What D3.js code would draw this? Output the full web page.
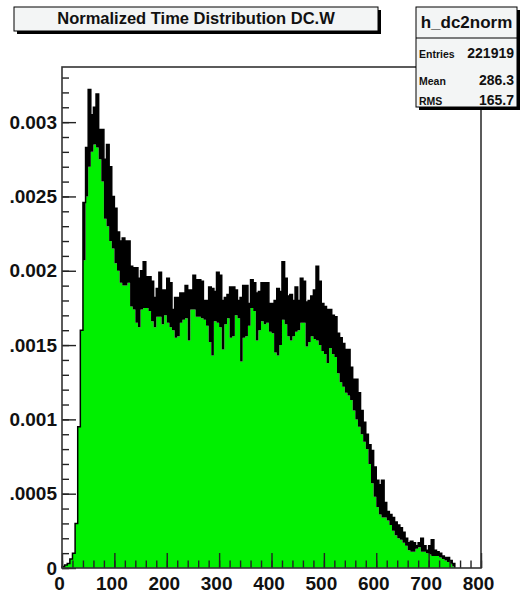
<!DOCTYPE html>
<html><head><meta charset="utf-8">
<script src="https://cdn.jsdelivr.net/npm/d3@7"></script>
<style>
body{margin:0;background:#fff;}
svg{display:block;}
text{font-family:"Liberation Sans",Arial,Helvetica,sans-serif;}
</style>
</head><body>
<svg id="c" width="531" height="598"></svg>
<script>
// ---------------- data ----------------
const title = "Normalized Time Distribution DC.W";
const histName = "h_dc2norm";
const statLabels = ["Entries", "Mean", "RMS"];
const statValues = ["221919", "286.3", "165.7"];

// histogram: bins of 5 time units starting at 0.
// hiE4 = top of the black (fluctuating) band, loE4 = top of the green fill, in units of 1e-4
const binStart = 0;
const binWidth = 5;
const hiE4 = [
  0.1, 0.2, 0.3, 0.6, 1.0, 3.0, 9.5, 16.0,
  24.6, 28.3, 32.2, 30.5, 31.0, 31.9, 29.5, 29.5, 27.5, 28.5, 27.0, 25.0, 24.2, 22.6, 22.0, 22.2, 22.0, 22.0,
  20.3, 20.2, 20.2, 19.5, 20.0, 20.6, 19.6, 19.6, 19.3, 18.2, 18.8, 19.9, 18.7, 18.7, 19.5, 19.2, 17.4, 18.2, 18.2, 18.5, 18.5, 19.0, 18.7, 18.7, 19.7,
  19.4, 19.4, 19.3, 18.0, 18.0, 18.9, 18.8, 18.6, 19.9, 19.7, 18.0, 18.2, 18.4, 18.9, 18.9, 18.7, 18.0, 18.2, 19.0, 19.0, 17.8, 19.4, 19.2, 18.5, 18.6, 19.2, 19.2,
  19.2, 17.8, 17.8, 18.0, 18.8, 18.6, 20.6, 19.5, 18.3, 18.4, 18.0, 18.9, 18.0, 19.5, 19.3, 17.9, 18.0, 18.3, 18.7, 20.3, 19.3, 17.8, 17.6, 17.4, 17.4, 17.0, 16.9,
  15.8, 15.5, 15.1, 14.7, 14.7, 13.5, 12.7, 12.7, 11.8, 10.6, 9.8, 9.0, 8.3, 7.9, 6.8, 5.9, 5.6, 5.9, 4.4, 3.8,
  3.6, 3.4, 3.1, 2.9, 2.7, 2.4, 2.0, 1.7, 1.8, 1.7, 1.5, 1.7, 2.0, 1.5, 1.2, 1.5, 1.9, 1.2, 1.1, 1.0,
  0.8, 0.7, 0.7, 0.5, 0.3
];
const loE4 = [
  0.1, 0.2, 0.3, 0.6, 1.0, 3.0, 9.5, 16.0,
  20.7, 25.0, 27.0, 28.0, 28.5, 28.3, 27.5, 26.0, 23.5, 23.0, 22.0, 21.5, 20.5, 20.0, 19.2, 19.0, 19.0, 19.2,
  17.6, 17.4, 16.5, 16.2, 17.4, 17.5, 17.5, 17.3, 16.6, 16.2, 16.9, 16.9, 16.4, 17.0, 16.5, 16.2, 16.0, 15.5, 15.6, 16.5, 16.7, 16.8, 15.3, 17.4, 17.4,
  16.9, 16.9, 16.8, 16.7, 16.3, 15.2, 14.3, 16.6, 16.5, 16.2, 14.7, 16.4, 16.8, 15.5, 15.6, 17.0, 16.8, 13.9, 15.5, 15.6, 16.3, 17.5, 17.3, 15.3, 16.0, 16.6, 16.4,
  16.5, 15.9, 15.8, 14.5, 14.3, 15.0, 16.7, 16.4, 15.6, 15.3, 15.6, 15.9, 16.0, 16.5, 16.5, 14.9, 15.2, 15.6, 15.4, 15.3, 15.0, 14.6, 14.4, 13.8, 14.8, 14.4, 14.2,
  13.1, 12.5, 12.2, 11.8, 11.6, 11.3, 10.6, 10.0, 9.5, 9.0, 8.5, 8.0, 7.0, 5.7, 4.8, 4.1, 3.6, 3.4, 3.4, 3.2,
  2.9, 2.5, 2.2, 2.0, 1.9, 1.7, 1.5, 1.2, 1.1, 1.1, 1.3, 1.4, 1.1, 1.1, 1.0, 0.9, 0.8, 0.8, 0.8, 0.7,
  0.6, 0.5, 0.4, 0.3, 0.1
];

const xDomain = [0, 800];
const yDomainE4 = [0, 33.71];
const xTickValues = [0, 100, 200, 300, 400, 500, 600, 700, 800];
const xTickLabels = ["0", "100", "200", "300", "400", "500", "600", "700", "800"];
const yTickValuesE4 = [0, 5, 10, 15, 20, 25, 30];
const yTickLabels = ["0", ".0005", "0.001", ".0015", "0.002", ".0025", "0.003"];

// ---------------- drawing ----------------
const svg = d3.select("#c");
const frame = {left: 62, right: 481, top: 67, bottom: 568};
const x = d3.scaleLinear().domain(xDomain).range([frame.left, frame.right]);
const y = d3.scaleLinear().domain(yDomainE4).range([frame.bottom, frame.top]);

const bins = hiE4.map((h, i) => ({
  x0: binStart + i * binWidth,
  x1: binStart + (i + 1) * binWidth,
  hi: h,
  lo: loE4[i]
}));
const lastBin = bins[bins.length - 1];
// step points (one per bin edge, the last repeated to close the final bin)
const stepPts = bins.concat([{x0: lastBin.x1, hi: lastBin.hi, lo: lastBin.lo}]);

const gH = svg.append("g");
// green fill up to the low envelope
gH.append("path")
  .attr("d", d3.area().curve(d3.curveStepAfter)
    .x(d => x(d.x0)).y0(y(0)).y1(d => y(d.lo))(stepPts))
  .attr("fill", "#00f000");
// black fluctuation band between low and high envelopes
gH.append("path")
  .attr("d", d3.area().curve(d3.curveStepAfter)
    .x(d => x(d.x0)).y0(d => y(d.lo)).y1(d => y(d.hi))(stepPts))
  .attr("fill", "#000");
// histogram outline
const outline = [{x0: bins[0].x0, hi: 0}].concat(stepPts, [{x0: lastBin.x1, hi: 0}]);
gH.append("path")
  .attr("d", d3.line().curve(d3.curveStepAfter).x(d => x(d.x0)).y(d => y(d.hi))(outline))
  .attr("fill", "none")
  .attr("stroke", "#000")
  .attr("stroke-width", 1.5);

// axes
const axisColor = "#222";
const xMajor = d3.axisBottom(x).tickValues(xTickValues)
  .tickFormat((d, i) => xTickLabels[i]).tickSize(-15).tickPadding(9);
const xMinor = d3.axisBottom(x).tickValues(d3.range(0, 801, 20))
  .tickFormat("").tickSize(-7.5);
const yMajor = d3.axisLeft(y).tickValues(yTickValuesE4)
  .tickFormat((d, i) => yTickLabels[i]).tickSize(-14).tickPadding(5);
const yMinor = d3.axisLeft(y).tickValues(d3.range(0, 33.5, 1))
  .tickFormat("").tickSize(-7);

function styleAxis(g) {
  g.select(".domain").remove();
  g.selectAll("line").attr("stroke", axisColor).attr("stroke-width", 1.4);
  g.selectAll("text").attr("fill", "#111").attr("font-size", "19px").attr("font-weight", "bold")
    .attr("font-family", "'Liberation Sans', Arial, sans-serif");
}
svg.append("g").attr("transform", `translate(0,${frame.bottom})`).call(xMinor).call(styleAxis);
svg.append("g").attr("transform", `translate(0,${frame.bottom})`).call(xMajor).call(styleAxis)
  .selectAll("text").attr("dx", "-3");
svg.append("g").attr("transform", `translate(0,${frame.bottom})`).call(g => g.remove());
svg.append("g").attr("transform", `translate(${frame.left},0)`).call(yMinor).call(styleAxis);
svg.append("g").attr("transform", `translate(${frame.left},0)`).call(yMajor).call(styleAxis);

// frame
svg.append("rect")
  .attr("x", frame.left).attr("y", frame.top)
  .attr("width", frame.right - frame.left).attr("height", frame.bottom - frame.top)
  .attr("fill", "none").attr("stroke", "#333").attr("stroke-width", 1.6);

// title box
const boxFill = "#f3f5f5";
const tb = {x: 14, y: 7, w: 364, h: 24};
svg.append("rect").attr("x", tb.x + 3).attr("y", tb.y + 3).attr("width", tb.w).attr("height", tb.h).attr("fill", "#000");
svg.append("rect").attr("x", tb.x).attr("y", tb.y).attr("width", tb.w).attr("height", tb.h)
  .attr("fill", boxFill).attr("stroke", "#000").attr("stroke-width", 1);
svg.append("text").attr("x", tb.x + tb.w / 2).attr("y", tb.y + tb.h / 2 + 1)
  .attr("text-anchor", "middle").attr("dominant-baseline", "middle")
  .attr("font-size", "16.5px").attr("font-weight", "bold").attr("fill", "#111")
  .text(title);

// stats box
const sb = {x: 416, y: 7, w: 101, h: 100};
svg.append("rect").attr("x", sb.x + 3).attr("y", sb.y + 3).attr("width", sb.w).attr("height", sb.h).attr("fill", "#000");
svg.append("rect").attr("x", sb.x).attr("y", sb.y).attr("width", sb.w).attr("height", sb.h)
  .attr("fill", boxFill).attr("stroke", "#000").attr("stroke-width", 1);
svg.append("line").attr("x1", sb.x).attr("x2", sb.x + sb.w).attr("y1", 38).attr("y2", 38)
  .attr("stroke", "#000").attr("stroke-width", 1);
svg.append("text").attr("x", sb.x + sb.w / 2).attr("y", 28)
  .attr("text-anchor", "middle").attr("font-size", "17px").attr("font-weight", "bold").attr("fill", "#111")
  .text(histName);
const rowY = [58, 85, 105];
statLabels.forEach((lab, i) => {
  svg.append("text").attr("x", sb.x + 3).attr("y", rowY[i])
    .attr("font-size", "10.5px").attr("font-weight", "bold").attr("fill", "#111").text(lab);
  svg.append("text").attr("x", sb.x + sb.w - 3).attr("y", rowY[i]).attr("text-anchor", "end")
    .attr("font-size", "14px").attr("font-weight", "bold").attr("fill", "#111").text(statValues[i]);
});
</script>
</body></html>
